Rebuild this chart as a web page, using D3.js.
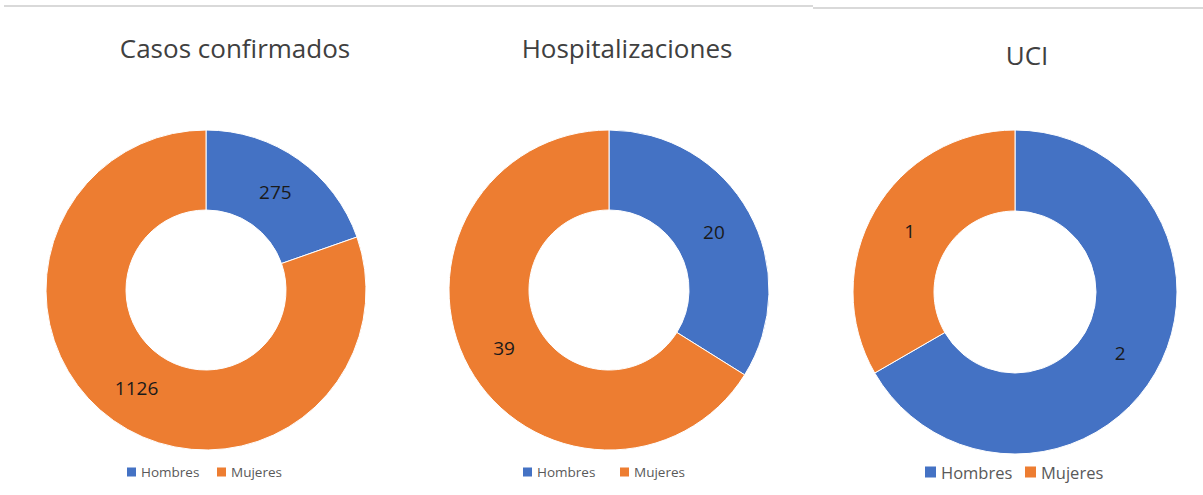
<!DOCTYPE html>
<html>
<head>
<meta charset="utf-8">
<script src="https://cdn.jsdelivr.net/npm/d3@7"></script>
<style>
  body { margin: 0; background: #fff; }
  text { font-family: "Open Sans", "Noto Sans", sans-serif; }
</style>
</head>
<body>
<svg id="chart" width="1203" height="495"></svg>
<script>
const categories = ["Hombres", "Mujeres"];
const titles = ["Casos confirmados", "Hospitalizaciones", "UCI"];
const confirmados = [275, 1126];
const hospitalizaciones = [20, 39];
const uci = [2, 1];

const colors = ["#4472C4", "#ED7D31"];

// panel layout
const panels = [
  { values: confirmados, title: titles[0], cx: 206, cy: 290, r: 160, tx: 235, ty: 58, legX: 127, legGap: 90, legSize: 13.5, sq: 9 },
  { values: hospitalizaciones, title: titles[1], cx: 609, cy: 290, r: 160, tx: 627, ty: 58, legX: 523, legGap: 97, legSize: 13.5, sq: 9 },
  { values: uci, title: titles[2], cx: 1015, cy: 292, r: 162, tx: 1027, ty: 65, legX: 925, legGap: 100, legSize: 16.5, sq: 11 }
];

const svg = d3.select("#chart");

// panel borders at the top
svg.append("line").attr("x1", 4).attr("x2", 813).attr("y1", 6).attr("y2", 6)
  .attr("stroke", "#d9d9d9").attr("stroke-width", 2);
svg.append("line").attr("x1", 813).attr("x2", 1203).attr("y1", 8).attr("y2", 8)
  .attr("stroke", "#d9d9d9").attr("stroke-width", 2);

const pie = d3.pie().sort(null).value((d) => d);

panels.forEach((p) => {
  const g = svg.append("g").attr("transform", `translate(${p.cx},${p.cy})`);
  const arc = d3.arc().innerRadius(p.r / 2).outerRadius(p.r);
  const arcs = pie(p.values);

  g.selectAll("path")
    .data(arcs)
    .enter()
    .append("path")
    .attr("d", arc)
    .attr("fill", (d, i) => colors[i])
    .attr("stroke", "#fff")
    .attr("stroke-width", 1);

  g.selectAll("text.lbl")
    .data(arcs)
    .enter()
    .append("text")
    .attr("class", "lbl")
    .attr("transform", (d) => `translate(${arc.centroid(d)})`)
    .attr("text-anchor", "middle")
    .attr("dominant-baseline", "central")
    .attr("font-size", 19)
    .attr("fill", "#1a1a1a")
    .text((d) => d.data);

  svg.append("text")
    .attr("x", p.tx)
    .attr("y", p.ty)
    .attr("text-anchor", "middle")
    .attr("font-size", 26)
    .attr("fill", "#404040")
    .text(p.title);

  const leg = svg.append("g").attr("transform", `translate(${p.legX},472)`);
  categories.forEach((c, i) => {
    const li = leg.append("g").attr("transform", `translate(${i * p.legGap},0)`);
    li.append("rect").attr("x", 0).attr("y", -p.sq / 2).attr("width", p.sq).attr("height", p.sq)
      .attr("fill", colors[i]);
    li.append("text").attr("x", p.sq + 5).attr("y", 0)
      .attr("dominant-baseline", "central")
      .attr("font-size", p.legSize)
      .attr("fill", "#595959")
      .text(c);
  });
});
</script>
</body>
</html>
